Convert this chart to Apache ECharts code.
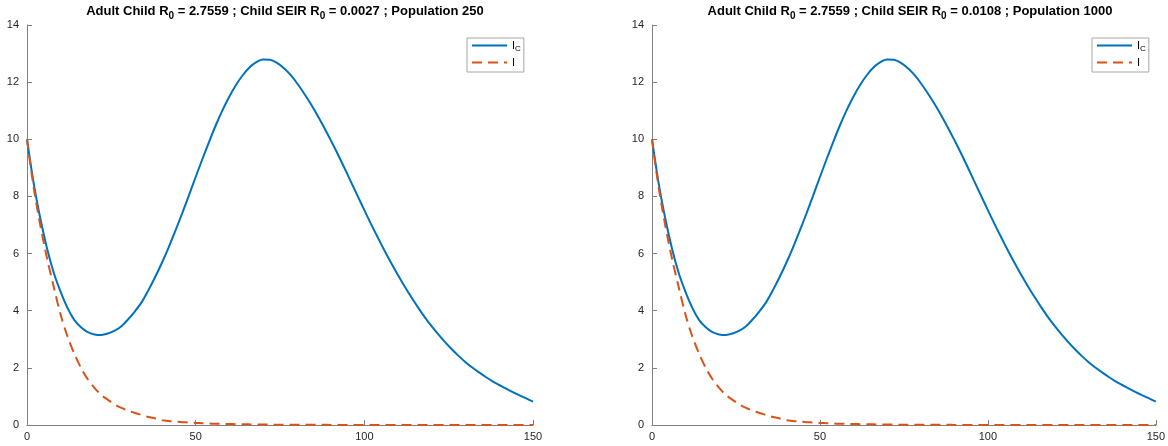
<!DOCTYPE html>
<html>
<head>
<meta charset="utf-8">
<script src="https://cdn.jsdelivr.net/npm/echarts@6/dist/echarts.min.js"></script>
<style>
html,body{margin:0;padding:0;background:#fff;}
#chart{width:1168px;height:446px;}
</style>
</head>
<body>
<div id="chart"></div>
<script>
// time points (days)
var tValues = [0,2,4,6,8,10,12,14,16,18,20,22,24,26,28,30,32,34,36,38,40,42,44,46,48,50,52,54,56,58,60,62,64,66,68,70,72,74,76,78,80,82,84,86,88,90,92,94,96,98,100,102,104,106,108,110,112,114,116,118,120,122,124,126,128,130,132,134,136,138,140,142,144,146,148,150];
// I_C (child infected)
var icValues = [10,8.45,7.2,6.15,5.3,4.65,4.1,3.68,3.42,3.25,3.17,3.15,3.2,3.3,3.46,3.7,3.98,4.3,4.72,5.18,5.68,6.22,6.8,7.41,8.04,8.68,9.31,9.92,10.5,11.03,11.5,11.91,12.25,12.52,12.7,12.79,12.78,12.68,12.5,12.27,11.97,11.63,11.26,10.86,10.43,9.98,9.51,9.02,8.52,8.02,7.52,7.03,6.56,6.1,5.66,5.24,4.84,4.46,4.1,3.76,3.45,3.16,2.89,2.64,2.41,2.2,2.01,1.84,1.68,1.53,1.4,1.27,1.15,1.04,0.93,0.82];
// I (adult infected)
var iValues = [10,8.3,6.95,5.8,4.8,3.85,3.1,2.5,2.0,1.6,1.3,1.05,0.88,0.72,0.6,0.5,0.42,0.35,0.28,0.23,0.17,0.14,0.12,0.1,0.085,0.072,0.06,0.05,0.045,0.04,0.035,0.03,0.026,0.022,0.019,0.016,0.014,0.012,0.01,0.009,0.008,0.007,0.006,0.005,0.005,0.004,0.004,0.003,0.003,0.003,0.002,0.002,0.002,0.002,0.001,0.001,0.001,0.001,0.001,0.001,0.001,0.001,0.001,0.001,0.001,0.001,0.001,0.001,0.001,0.001,0.001,0.001,0.001,0.001,0.001,0.001];
var xTicks = [0,50,100,150];
var yTicks = [0,2,4,6,8,10,12,14];
var panelTitles = [
  ['Adult Child R', '0', ' = 2.7559 ; Child SEIR R', '0', ' = 0.0027 ; Population 250'],
  ['Adult Child R', '0', ' = 2.7559 ; Child SEIR R', '0', ' = 0.0108 ; Population 1000']
];

function pairs(ys){ return tValues.map(function(t,i){ return [t, ys[i]]; }); }

var FONT = 'Liberation Sans, Arial, Helvetica, sans-serif';
var BLUE = '#0072BD', ORANGE = '#D95319';
var grids = [
  {left: 27, right: 635, top: 25, bottom: 21},
  {left: 652, right: 10, top: 25, bottom: 21}
];
function titleText(p){
  return p[0] + '{s|' + p[1] + '}' + p[2] + '{s|' + p[3] + '}' + p[4];
}
var titles = [], xAxes = [], yAxes = [], series = [], legends = [];
grids.forEach(function(g, k){
  var x0 = g.left, w = 1168 - g.left - g.right;
  titles.push({
    text: titleText(panelTitles[k]),
    left: x0 + w/2, top: -3, textAlign: 'center',
    textStyle: {fontFamily: FONT, fontSize: 13, fontWeight: 'bold', color: '#000',
      rich: {s: {fontFamily: FONT, fontSize: 10, fontWeight: 'bold', color: '#000', padding: [9,0,0,0]}}}
  });
  xAxes.push({
    gridIndex: k, type: 'value', min: 0, max: 150, interval: 50,
    axisLine: {show: true, lineStyle: {color: '#808080', width: 1}},
    axisTick: {show: true, inside: true, length: 5, lineStyle: {color: '#808080'}},
    axisLabel: {color: '#262626', fontFamily: FONT, fontSize: 11, margin: 6,
      formatter: function(v){ return xTicks.indexOf(v) >= 0 ? String(v) : ''; }},
    splitLine: {show: false}
  });
  yAxes.push({
    gridIndex: k, type: 'value', min: 0, max: 14, interval: 2,
    axisLine: {show: true, lineStyle: {color: '#808080', width: 1}},
    axisTick: {show: true, inside: true, length: 5, lineStyle: {color: '#808080'}},
    axisLabel: {color: '#262626', fontFamily: FONT, fontSize: 11, margin: 8,
      formatter: function(v){ return yTicks.indexOf(v) >= 0 ? String(v) : ''; }},
    splitLine: {show: false}
  });
  series.push({
    name: 'Ic', type: 'line', xAxisIndex: k, yAxisIndex: k, data: pairs(icValues),
    smooth: 0.3, showSymbol: false, symbol: 'none',
    lineStyle: {color: BLUE, width: 2}, itemStyle: {color: BLUE}, z: 3
  });
  series.push({
    name: 'I', type: 'line', xAxisIndex: k, yAxisIndex: k, data: pairs(iValues),
    smooth: 0.3, showSymbol: false, symbol: 'none',
    lineStyle: {color: ORANGE, width: 2, type: [10,6]}, itemStyle: {color: ORANGE}, z: 4
  });
  legends.push({
    data: ['Ic','I'], orient: 'vertical', left: x0 + 440, top: 38,
    padding: [2,3,4,4], itemGap: 4, itemWidth: 35, itemHeight: 12,
    backgroundColor: '#fff', borderColor: '#a6a6a6', borderWidth: 1, borderRadius: 0,
    selectedMode: false,
    itemStyle: {opacity: 0},
    formatter: function(n){ return n === 'Ic' ? '{m|I}{c|C}' : '{m|I}'; },
    textStyle: {fontFamily: FONT, fontSize: 11, color: '#000',
      rich: {m: {fontFamily: FONT, fontSize: 11, color: '#000'},
             c: {fontFamily: FONT, fontSize: 8, color: '#000', padding: [7,0,0,0]}}}
  });
});

var chart = echarts.init(document.getElementById('chart'), null, {renderer: 'canvas'});
chart.setOption({
  animation: false,
  backgroundColor: '#fff',
  title: titles,
  grid: grids,
  xAxis: xAxes,
  yAxis: yAxes,
  legend: legends,
  series: series
});
</script>
</body>
</html>
